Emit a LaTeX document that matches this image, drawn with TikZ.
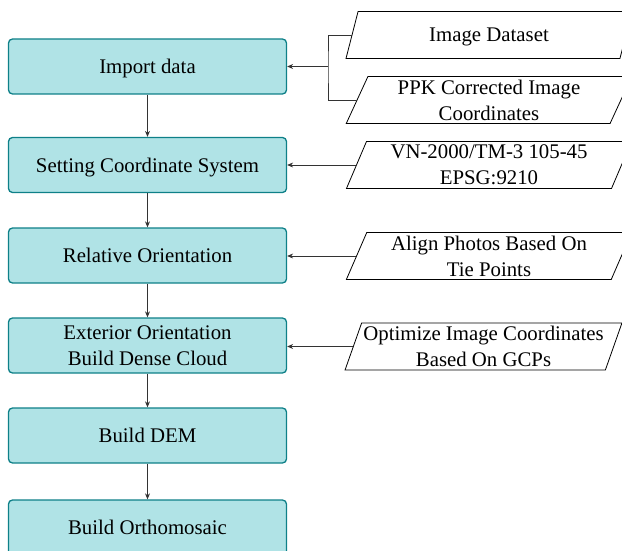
\documentclass[tikz,border=0pt]{standalone}
\usepackage{fontspec}
\setmainfont{Liberation Serif}
\usetikzlibrary{shapes.geometric,arrows.meta}
\definecolor{boxfill}{HTML}{B0E3E6}
\definecolor{boxline}{HTML}{0E8088}
\definecolor{arrline}{HTML}{333333}
\begin{document}
\begin{tikzpicture}[x=1pt,y=-1pt,
  font=\fontsize{20.8}{26}\selectfont,
  stepbox/.style={draw=boxline,fill=boxfill,line width=1.3pt,rounded corners=4pt,
    minimum width=278pt,minimum height=55pt,align=center,inner sep=0pt,text depth=0pt},
  inbox/.style={draw,trapezium,trapezium left angle=68,trapezium right angle=112,
    trapezium stretches=true,minimum width=286pt,minimum height=47pt,
    align=center,inner sep=0pt,line width=0.8pt,text depth=0pt},
  arr/.style={-{Stealth[length=6pt,width=5pt]},line width=0.8pt,draw=arrline}]
  \useasboundingbox (0,0) rectangle (622,551);
  %%%%%%%%%%%%%The processing steps%%%%%%%%%%%%%%%%%%%%%%
  \node[stepbox] (import) at (147.5,66.5) {Import data};
  \node[stepbox] (coord) at (147.5,165) {Setting Coordinate System};
  \node[stepbox] (relor) at (147.5,255.5) {Relative Orientation};
  \node[stepbox] (extor) at (147.5,345.5) {Exterior Orientation\\Build Dense Cloud};
  \node[stepbox] (dem) at (147.5,435.5) {Build DEM};
  \node[stepbox] (ortho) at (147.5,527.5) {Build Orthomosaic};

  \draw[arr] (import) -- (coord);
  \draw[arr] (coord) -- (relor);
  \draw[arr] (relor) -- (extor);
  \draw[arr] (extor) -- (dem);
  \draw[arr] (dem) -- (ortho);

  %%%%%%%%%%%%%The inputs%%%%%%%%%%%%%%%%%%%%%%
  \node[inbox] (data) at (489,35) {Image Dataset};
  \node[inbox] (ppk) at (489,100) {PPK Corrected Image\\Coordinates};
  \node[inbox] (crs) at (489,165) {VN-2000/TM-3 105-45\\EPSG:9210};
  \node[inbox] (tie) at (489,256) {Align Photos Based On\\Tie Points};
  \node[inbox,minimum width=277pt] (gcp) at (483.5,346.5) {Optimize Image Coordinates\\Based On GCPs};

  \coordinate (split) at (328,66.5);
  \draw[line width=0.8pt,draw=arrline] (data.west) -| (split) |- (ppk.west);
  \draw[arr] (split) -- (import.east);
  \draw[arr] (crs.west) -- (crs.west -| coord.east);
  \draw[arr] (tie.west) -- (tie.west -| relor.east);
  \draw[arr] (gcp.west) -- (gcp.west -| extor.east);
\end{tikzpicture}
\end{document}
